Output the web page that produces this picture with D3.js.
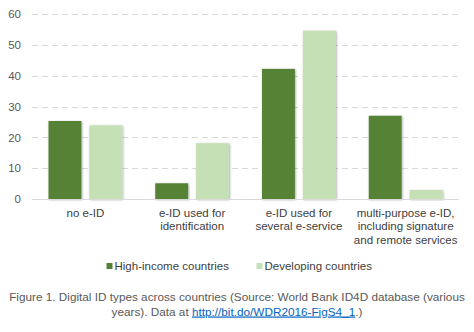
<!DOCTYPE html>
<html><head><meta charset="utf-8">
<script src="https://cdn.jsdelivr.net/npm/d3@7"></script>
<style>html,body{margin:0;padding:0;background:#fff;}svg{display:block;font-family:"Liberation Sans",Arial,sans-serif;}</style>
</head><body>
<svg id="chart" width="474" height="332"></svg>
<script>
const categories = [["no e-ID"],["e-ID used for","identification"],["e-ID used for","several e-service"],["multi-purpose e-ID,","including signature","and remote services"]];
const series = ["High-income countries","Developing countries"];
const highIncome = [25.3, 5.1, 42.2, 27.0];
const developing = [23.9, 18.1, 54.6, 2.9];
const yTicks = [0,10,20,30,40,50,60];
const colors = ["#548235","#c5e0b4"];

(function(){
const svg = d3.select("#chart");
const mLeft = 32, mRight = 459, mTop = 14, mBottom = 199;
const catKeys = categories.map((c,i)=>i);
const x0 = d3.scaleBand().domain(catKeys).range([mLeft,mRight]).padding(0);
const x1 = d3.scaleBand().domain(series).range([16.5, x0.bandwidth()-16.5]).paddingInner(0.195);
const y = d3.scaleLinear().domain([0,60]).range([mBottom,mTop]);

const defs = svg.append("defs");
const f = defs.append("filter").attr("id","sh").attr("x","-20%").attr("y","-20%").attr("width","140%").attr("height","140%");
f.append("feDropShadow").attr("dx",0.8).attr("dy",0.8).attr("stdDeviation",0.8).attr("flood-color","#000").attr("flood-opacity",0.35);

// grid
svg.append("g").selectAll("line").data(yTicks.filter(d=>d>0)).join("line")
  .attr("x1",mLeft).attr("x2",mRight).attr("y1",d=>Math.round(y(d))+0.5).attr("y2",d=>Math.round(y(d))+0.5)
  .attr("stroke","#d9d9d9").attr("stroke-width",1).attr("stroke-dasharray","6,4");

// y labels
const yAxis = d3.axisLeft(y).tickValues(yTicks).tickSize(0).tickPadding(0);
const ya = svg.append("g").attr("transform",`translate(${mLeft-11},0)`).call(yAxis);
ya.select(".domain").remove();
ya.selectAll("text").attr("font-size","11.5px").attr("fill","#595959").attr("font-family","Liberation Sans, Arial, sans-serif");

// bars
const data = [highIncome, developing];
const g = svg.append("g");
catKeys.forEach(i=>{
  series.forEach((s,j)=>{
    g.append("rect").attr("x",x0(i)+x1(s)).attr("width",x1.bandwidth())
      .attr("y",y(data[j][i])).attr("height",y(0)-y(data[j][i]))
      .attr("fill",colors[j]).attr("filter","url(#sh)");
  });
});

// baseline
svg.append("line").attr("x1",mLeft).attr("x2",mRight).attr("y1",mBottom+0.5).attr("y2",mBottom+0.5).attr("stroke","#d9d9d9");

// category labels
const cl = svg.append("g");
categories.forEach((lines,i)=>{
  const t = cl.append("text").attr("text-anchor","middle").attr("font-size","11.5px").attr("fill","#404040");
  lines.forEach((ln,k)=>{
    t.append("tspan").attr("x",x0(i)+x0.bandwidth()/2).attr("y",217+k*13.4).text(ln);
  });
});

// legend
const legX = [106.5, 256.5];
series.forEach((s,j)=>{
  svg.append("rect").attr("x",legX[j]).attr("y",263).attr("width",6).attr("height",6).attr("fill",colors[j]);
  svg.append("text").attr("x",legX[j]+8).attr("y",270).attr("font-size","11.5px").attr("fill","#404040").text(s);
});

// caption
const cap = svg.append("g").attr("font-size","11.75px").attr("fill","#595959");
cap.append("text").attr("x",237).attr("y",300.5).attr("text-anchor","middle")
  .text("Figure 1. Digital ID types across countries (Source: World Bank ID4D database (various");
const t2 = cap.append("text").attr("x",237).attr("y",315.5).attr("text-anchor","middle");
t2.append("tspan").text("years). Data at ");
t2.append("tspan").attr("fill","#0563c1").attr("text-decoration","underline").text("http://bit.do/WDR2016-FigS4_1");
t2.append("tspan").text(".)");
})();
</script>
</body></html>
